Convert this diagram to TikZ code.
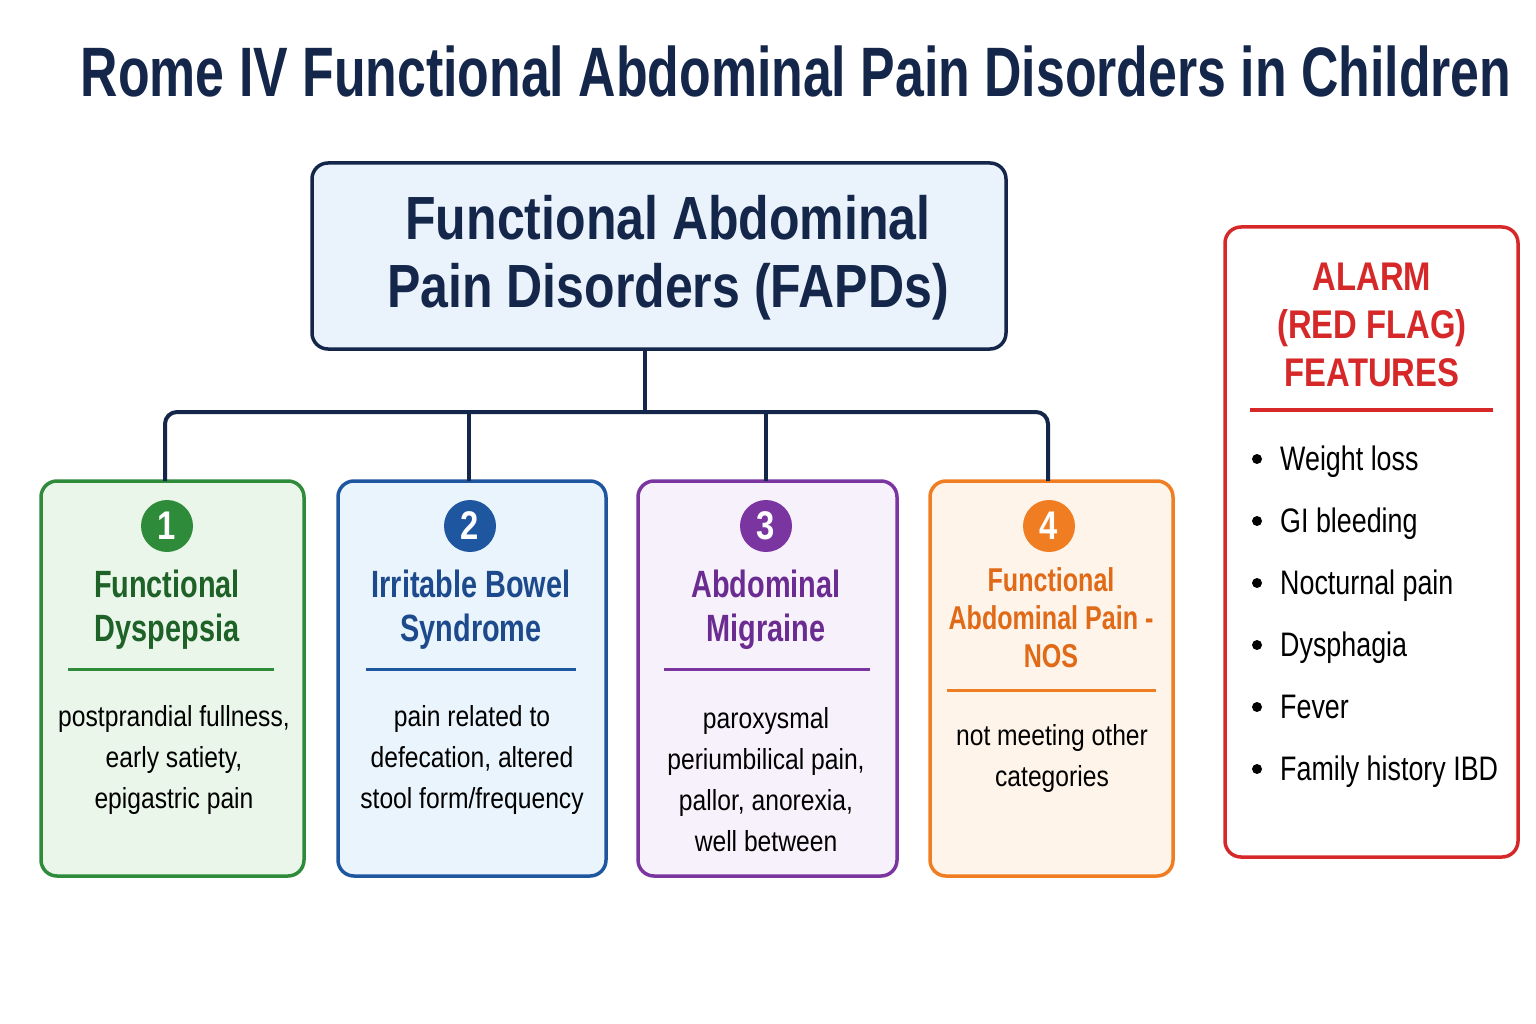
\documentclass[tikz,border=0pt]{standalone}
\usepackage{fontspec}
\setmainfont{Liberation Sans}[FakeStretch=0.85]
\newfontfamily\titlefont{Liberation Sans}[FakeStretch=0.74]
\newfontfamily\headfont{Liberation Sans}[FakeStretch=0.82]
\newfontfamily\catfont{Liberation Sans}[FakeStretch=0.76]
\newfontfamily\bulfont{Liberation Sans}[FakeStretch=0.79]
\usetikzlibrary{calc}
\definecolor{navy}{HTML}{14264A}
\definecolor{gbord}{HTML}{2E8B3A}
\definecolor{gtext}{HTML}{1E6228}
\definecolor{gfill}{HTML}{EAF6EA}
\definecolor{bbord}{HTML}{1F56A0}
\definecolor{btext}{HTML}{1D4A8C}
\definecolor{bfill}{HTML}{EAF4FC}
\definecolor{pbord}{HTML}{7A35A0}
\definecolor{ptext}{HTML}{6A2C91}
\definecolor{pfill}{HTML}{F7F1FB}
\definecolor{obord}{HTML}{F07D22}
\definecolor{otext}{HTML}{E06A18}
\definecolor{ofill}{HTML}{FEF4E9}
\definecolor{rbord}{HTML}{D62828}
\definecolor{topfill}{HTML}{EAF3FB}
\tikzset{
  box/.style={draw, line width=3.5pt, rounded corners=16pt, inner sep=0pt},
  conn/.style={draw=navy, line width=4pt},
  num/.style={circle, inner sep=0pt, minimum size=52pt, text=white, font=\headfont\bfseries\fontsize{40}{40}\selectfont},
  cat/.style={align=center, inner sep=0pt, font=\catfont\bfseries\fontsize{38}{44}\selectfont},
  desc/.style={align=center, inner sep=0pt, text=black, font=\fontsize{29}{41}\selectfont},
  sep/.style={line width=3pt},
  bul/.style={anchor=base west, inner sep=0pt, text=black, font=\bulfont\fontsize{34}{34}\selectfont},
  dot/.style={circle, fill=black, inner sep=0pt, minimum size=10pt},
}
\begin{document}
\begin{tikzpicture}[x=1pt,y=-1pt]
\useasboundingbox[fill=white] (0,0) rectangle (1536,1024);

% title
\node[anchor=base, inner sep=0pt, text=navy, font=\titlefont\bfseries\fontsize{70}{70}\selectfont] (title) at (796,97) {Rome IV Functional Abdominal Pain Disorders in Children};

% top box
\node[box, draw=navy, fill=topfill, minimum width=694pt, minimum height=186pt] (top) at (659,256) {};
\node[align=center, inner sep=0pt, text=navy, font=\headfont\bfseries\fontsize{61}{68}\selectfont] (toptext) at (668,258) {Functional Abdominal\\Pain Disorders (FAPDs)};

% category boxes
\node[box, draw=gbord, fill=gfill, minimum width=263pt, minimum height=395pt] (b1) at (172.5,678.5) {};
\node[box, draw=bbord, fill=bfill, minimum width=268pt, minimum height=395pt] (b2) at (472,678.5) {};
\node[box, draw=pbord, fill=pfill, minimum width=259pt, minimum height=395pt] (b3) at (767.5,678.5) {};
\node[box, draw=obord, fill=ofill, minimum width=243pt, minimum height=395pt] (b4) at (1051.5,678.5) {};

% connectors
\coordinate (hub) at (645,412);
\coordinate (c1) at (165,481);
\coordinate (c2) at (469,481);
\coordinate (c3) at (766,481);
\coordinate (c4) at (1048,481);
\draw[conn] (top.south -| hub) -- (hub);
\draw[conn, rounded corners=12pt] (c1) -- (c1 |- hub) -- (c4 |- hub) -- (c4);
\draw[conn] (c2 |- hub) -- (c2);
\draw[conn] (c3 |- hub) -- (c3);

% numbers
\node[num, fill=gbord] (n1) at (167,526) {1};
\node[num, fill=bbord] (n2) at (470,526) {2};
\node[num, fill=pbord] (n3) at (766,526) {3};
\node[num, fill=obord] (n4) at (1049,526) {4};

% category titles
\node[cat, text=gtext] (t1) at (167,610) {Functional\\Dyspepsia};
\node[cat, text=btext] (t2) at (471,610) {Irritable Bowel\\Syndrome};
\node[cat, text=ptext] (t3) at (766,610) {Abdominal\\Migraine};
\node[cat, text=otext, font=\catfont\bfseries\fontsize{33}{38}\selectfont] (t4) at (1051,618) {Functional\\Abdominal Pain -\\NOS};

% separators
\draw[sep, draw=gbord] (68,669) coordinate (s1a) -- (274,669) coordinate (s1b);
\draw[sep, draw=bbord] (366,669) coordinate (s2a) -- (576,669) coordinate (s2b);
\draw[sep, draw=pbord] (664,669) coordinate (s3a) -- (870,669) coordinate (s3b);
\draw[sep, draw=obord] (947,690) coordinate (s4a) -- (1156,690) coordinate (s4b);

% descriptions
\node[desc] (d1) at (174,760) {postprandial fullness,\\early satiety,\\epigastric pain};
\node[desc] (d2) at (472,760) {pain related to\\defecation, altered\\stool form/frequency};
\node[desc] (d3) at (766,780) {paroxysmal\\periumbilical pain,\\pallor, anorexia,\\well between};
\node[desc] (d4) at (1052,758) {not meeting other\\categories};

% alarm box
\node[box, draw=rbord, fill=white, minimum width=293pt, minimum height=630pt] (alarm) at (1371.5,542) {};
\node[align=center, inner sep=0pt, text=rbord, font=\headfont\bfseries\fontsize{40}{48}\selectfont] (atitle) at (1372,325) {ALARM\\(RED FLAG)\\FEATURES};
\draw[sep, draw=rbord, line width=3.5pt] (1250,410) coordinate (sa) -- (1493,410) coordinate (sb);

\foreach \t [count=\i] in {Weight loss, GI bleeding, Nocturnal pain, Dysphagia, Fever, Family history IBD}{
  \node[dot] (bd\i) at (1257, 397+62*\i) {};
  \node[bul] (bt\i) at (1280, 408+62*\i) {\t};
}
\end{tikzpicture}
\end{document}
